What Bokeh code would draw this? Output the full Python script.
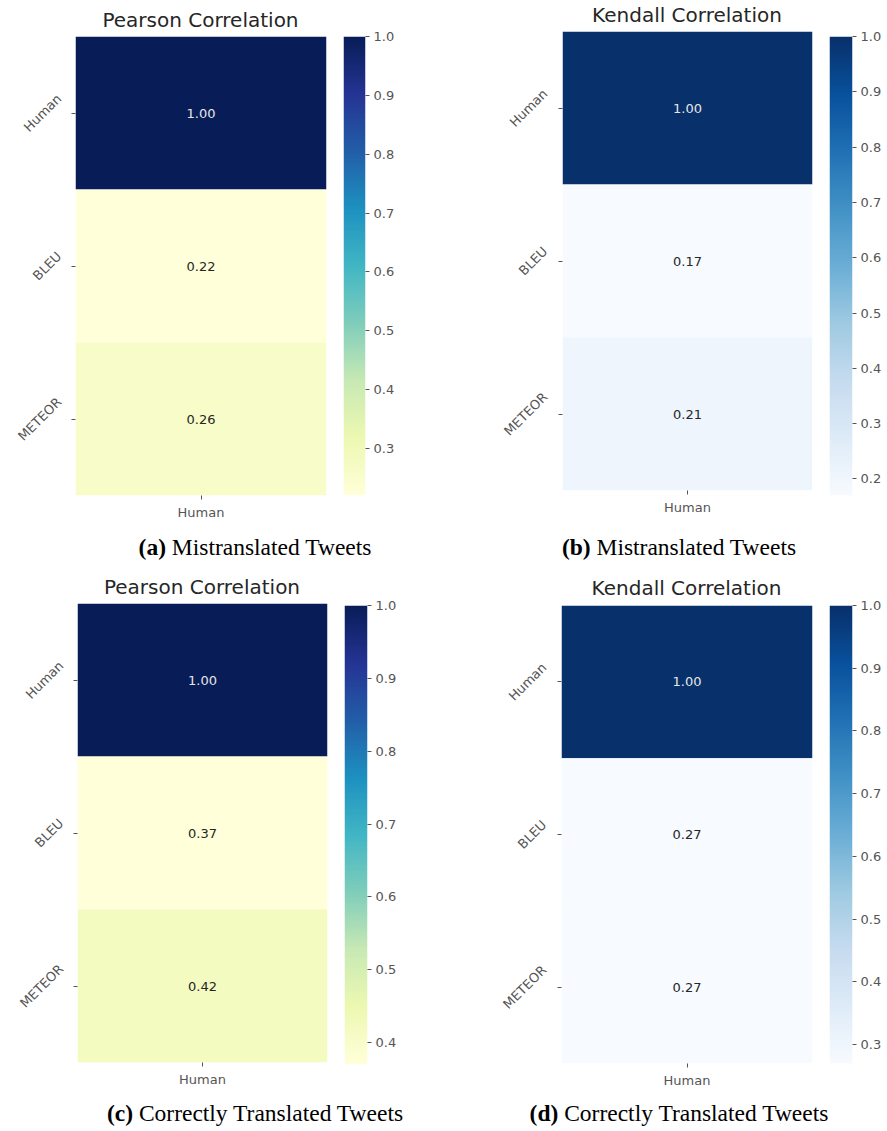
import numpy as np
from math import pi, sqrt
from bokeh.plotting import figure
from bokeh.models import (FactorRange, Range1d, LinearColorMapper, ColumnDataSource,
                          FixedTicker, PrintfTickFormatter, Div)
from bokeh.layouts import row, column
from bokeh.palettes import YlGnBu9, Blues9
from bokeh.embed import file_html
from bokeh.resources import INLINE
from bokeh.core.properties import value

# ---------------- data ----------------
metrics = ["Human", "BLEU", "METEOR"]
columns = ["Human"]

pearson_mistranslated = [1.00, 0.22, 0.26]
kendall_mistranslated = [1.00, 0.17, 0.21]
pearson_correct = [1.00, 0.37, 0.42]
kendall_correct = [1.00, 0.27, 0.27]

panel_titles = ["Pearson Correlation", "Kendall Correlation",
                "Pearson Correlation", "Kendall Correlation"]
caption_tags = ["(a)", "(b)", "(c)", "(d)"]
caption_texts = ["Mistranslated Tweets", "Mistranslated Tweets",
                 "Correctly Translated Tweets", "Correctly Translated Tweets"]
cbar_ticks = [0.1, 0.2, 0.3, 0.4, 0.5, 0.6, 0.7, 0.8, 0.9, 1.0]
cbar_max = 1.0

FONT = "DejaVu Sans"
LABEL_COLOR = "#555555"
TICK_FONT_PX = 13

# DejaVu Sans advance widths (units / 2048) used to centre the rotated labels
DEJAVU_ADV = {"H": 1540, "u": 1298, "m": 1995, "a": 1255, "n": 1298, "B": 1405,
              "L": 1141, "E": 1294, "U": 1501, "M": 1767, "T": 1251, "O": 1612,
              "R": 1423}


def text_width(s, px):
    return sum(DEJAVU_ADV.get(c, 1250) for c in s) / 2048 * px


def smooth_palette(anchors, n=256):
    """Linear interpolation between brewer anchor colours (light -> dark)."""
    rgb = np.array([[int(c[i:i + 2], 16) for i in (1, 3, 5)] for c in anchors], float)
    pos = np.linspace(0, 1, len(anchors))
    t = np.linspace(0, 1, n)
    out = np.stack([np.interp(t, pos, rgb[:, k]) for k in range(3)], axis=1)
    return ["#%02x%02x%02x" % tuple(int(round(v)) for v in c) for c in out]


YLGNBU = smooth_palette(list(YlGnBu9[::-1]))
BLUES = smooth_palette(list(Blues9[::-1]))


def style_axes(p):
    for ax in (p.xaxis + p.yaxis):
        ax.axis_line_color = None
        ax.major_tick_in = 0
        ax.major_tick_out = 4
        ax.major_tick_line_color = LABEL_COLOR
        ax.minor_tick_line_color = None
        ax.major_label_text_font = FONT
        ax.major_label_text_font_size = f"{TICK_FONT_PX}px"
        ax.major_label_text_color = LABEL_COLOR
    p.grid.visible = False
    p.outline_line_color = None


def heatmap(vals, palette, yrange, left, top, fw, fh, right, bottom):
    vmin = min(vals)
    mapper = LinearColorMapper(palette=palette, low=vmin, high=cbar_max)
    src = ColumnDataSource(dict(
        x=columns * len(metrics),
        y=metrics,
        v=vals,
        label=[f"{v:.2f}" for v in vals],
        tc=["#e6e6e6" if v > 0.6 else "#262626" for v in vals],
    ))
    p = figure(title=None, x_range=FactorRange(*columns), y_range=yrange,
               frame_width=fw, frame_height=fh,
               min_border_left=left, min_border_right=right,
               min_border_top=top, min_border_bottom=bottom,
               toolbar_location=None, tools="", output_backend="svg")
    p.rect(x="x", y="y", width=1, height=1, source=src,
           fill_color={"field": "v", "transform": mapper}, line_color=None)
    p.text(x="x", y="y", text="label", text_color="tc", source=src,
           text_align="center", text_baseline="middle",
           text_font=value(FONT), text_font_size="13px")
    style_axes(p)
    p.xaxis.major_label_standoff = 5
    # y tick labels are drawn rotated in the neighbouring label panel
    p.yaxis.major_label_overrides = {m: "" for m in metrics}
    p.yaxis.major_label_text_color = None
    p.yaxis.major_label_standoff = 0
    return p


def label_panel(yrange, fw, top, fh, bottom):
    p = figure(title=None, x_range=Range1d(0, 1), y_range=yrange,
               frame_width=fw, frame_height=fh,
               min_border_left=0, min_border_right=0,
               min_border_top=top, min_border_bottom=bottom,
               x_axis_location=None, y_axis_location=None,
               toolbar_location=None, tools="", output_backend="svg")
    p.grid.visible = False
    p.outline_line_color = None
    ink_h = 0.73 * TICK_FONT_PX
    offs = [-(1 + (text_width(m, TICK_FONT_PX) + ink_h) / sqrt(2) / 2) for m in metrics]
    src = ColumnDataSource(dict(x=[1.0] * len(metrics), y=metrics, t=metrics, xo=offs))
    p.text(x="x", y="y", text="t", x_offset="xo", source=src, angle=pi / 4,
           text_align="center", text_baseline="middle",
           text_font=value(FONT), text_font_size=f"{TICK_FONT_PX}px",
           text_color=LABEL_COLOR)
    return p


def colorbar(vals, palette, left, top, fw, fh, right, bottom):
    vmin = min(vals)
    mapper = LinearColorMapper(palette=palette, low=vmin, high=cbar_max)
    p = figure(title=None, x_range=Range1d(0, 1), y_range=Range1d(vmin, cbar_max),
               frame_width=fw, frame_height=fh,
               min_border_left=left, min_border_right=right,
               min_border_top=top, min_border_bottom=bottom,
               y_axis_location="right", x_axis_location=None,
               toolbar_location=None, tools="", output_backend="svg")
    grad = np.linspace(vmin, cbar_max, 256).reshape(256, 1)
    p.image(image=[grad], x=0, y=vmin, dw=1, dh=cbar_max - vmin, color_mapper=mapper)
    style_axes(p)
    p.yaxis.ticker = FixedTicker(ticks=cbar_ticks)
    p.yaxis.formatter = PrintfTickFormatter(format="%.1f")
    p.yaxis.major_label_standoff = 4
    return p


def title_div(text, width, height, frame_left, frame_width, pad_top):
    html = (f'<div style="margin-left:{frame_left}px;width:{frame_width}px;'
            f'padding-top:{pad_top}px;text-align:center;font-family:\'{FONT}\',sans-serif;'
            f'font-size:20px;line-height:23px;color:#262626;white-space:nowrap">{text}</div>')
    return Div(text=html, width=width, height=height, margin=0)


def caption(tag, text, width, height):
    html = (f'<div style="width:{width}px;text-align:center;'
            f'font-family:\'Liberation Serif\',serif;font-size:23.5px;'
            f'line-height:{height}px;color:#000;white-space:nowrap">'
            f'<b>{tag}</b> {text}</div>')
    return Div(text=html, width=width, height=height, margin=0)


def panel(vals, title, palette, lab_w, hm_left, fw, hm_right, title_h, top, fh, bottom,
          pad_top, cb_left, cb_w, cb_right):
    yr = FactorRange(*metrics[::-1])
    lab = label_panel(yr, lab_w, top, fh, bottom)
    hm = heatmap(vals, palette, yr, hm_left, top, fw, fh, hm_right, bottom)
    t = title_div(title, lab_w + hm_left + fw + hm_right, title_h, lab_w + hm_left, fw, pad_top)
    cb = colorbar(vals, palette, cb_left, title_h + top, cb_w, fh, cb_right, bottom)
    return [column(t, row(lab, hm)), cb]


rowA = panel(pearson_mistranslated, panel_titles[0], YLGNBU,
             63, 12, 251, 9, 31, 5, 459, 35, 8.9, 8, 22, 78)
rowB = panel(kendall_mistranslated, panel_titles[1], BLUES,
             106, 13, 250, 8, 31, 0, 459, 40, 4.3, 9, 23, 35)
rowC = panel(pearson_correct, panel_titles[2], YLGNBU,
             65, 12, 250, 8, 38, 0, 459, 33, 10.9, 9, 23, 76)
rowD = panel(kendall_correct, panel_titles[3], BLUES,
             105, 13, 251, 8, 38, 2, 458, 32, 12.3, 9, 23, 35)

capA = caption(caption_tags[0], caption_texts[0], 510, 35)
capB = caption(caption_tags[1], caption_texts[1], 338, 35)
capC = caption(caption_tags[2], caption_texts[2], 510, 36)
capD = caption(caption_tags[3], caption_texts[3], 338, 36)

layout = column(
    row(*rowA, *rowB),
    row(capA, capB),
    row(*rowC, *rowD),
    row(capC, capD),
)

open("out.html", "w").write(file_html(layout, INLINE))
